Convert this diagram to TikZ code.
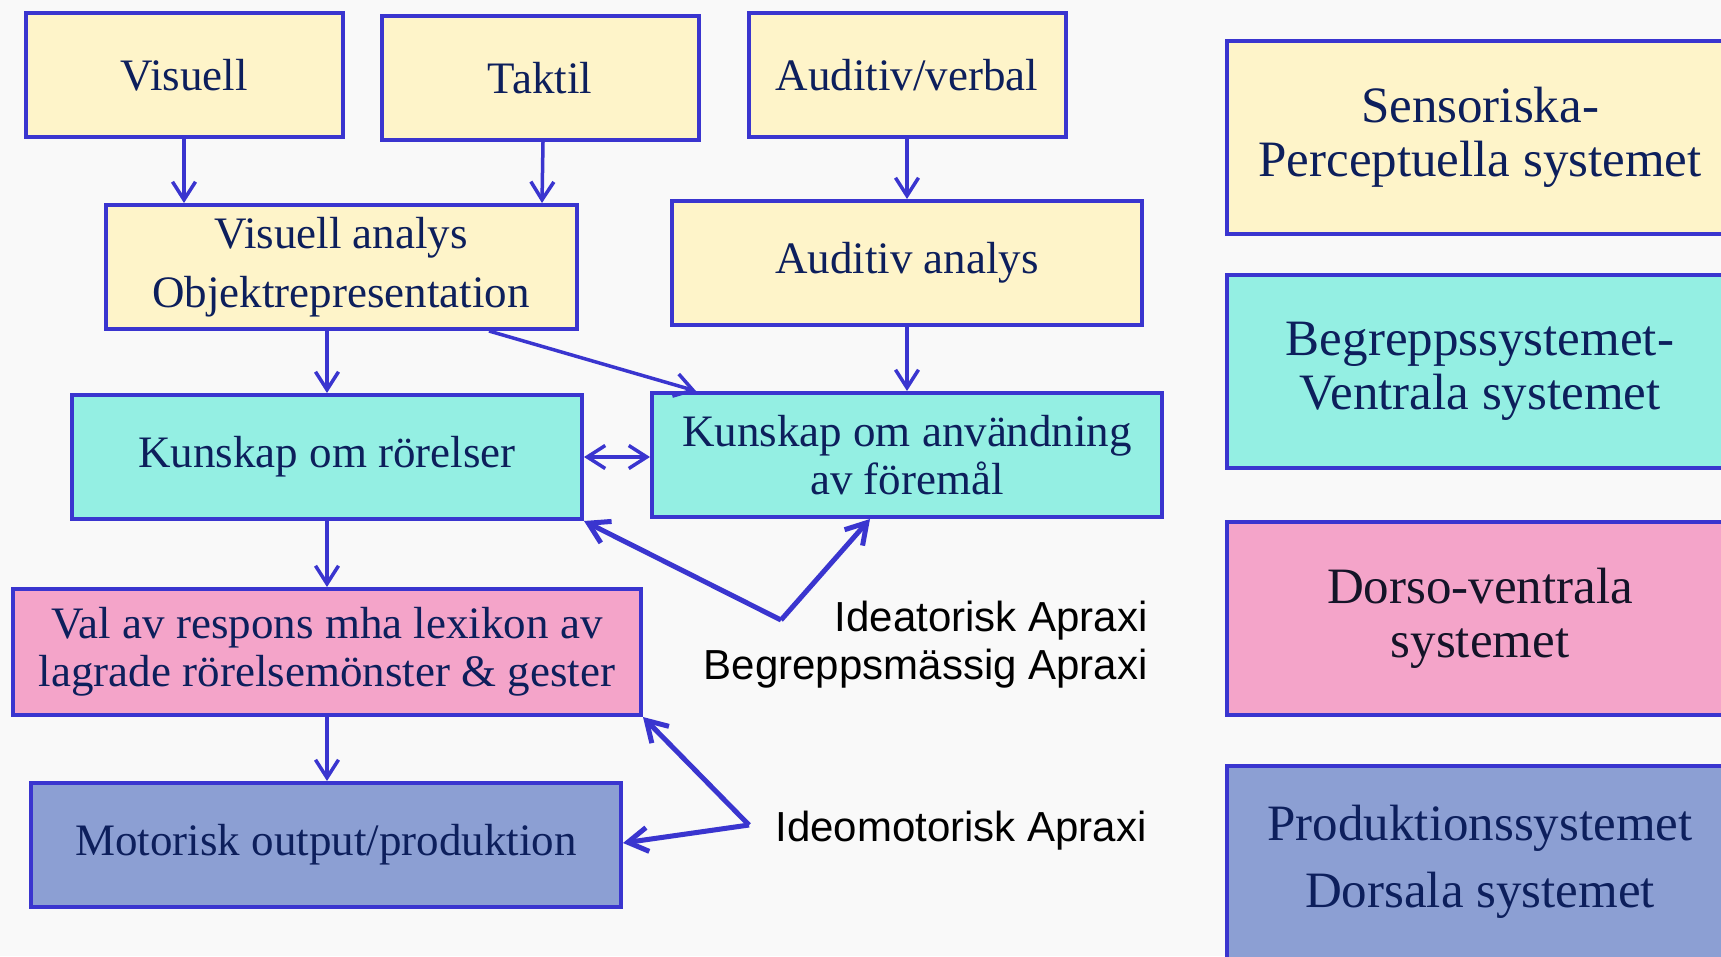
\documentclass[tikz,border=0pt]{standalone}
\usepackage{fontspec}
\setmainfont{Liberation Serif}
\newfontfamily\apraxifont{Liberation Sans}
\usetikzlibrary{arrows.meta}

\definecolor{edgeblue}{RGB}{58,53,207}
\definecolor{sensyellow}{RGB}{254,244,201}
\definecolor{ventcyan}{RGB}{148,239,227}
\definecolor{dorspink}{RGB}{244,164,201}
\definecolor{prodblue}{RGB}{140,159,211}
\definecolor{textnavy}{RGB}{13,31,92}
\definecolor{bggray}{RGB}{249,249,249}

\tikzset{
	box/.style={draw=edgeblue, line width=4pt, align=center, text=textnavy, inner sep=0pt,
		font=\fontsize{45}{48}\selectfont},
	sysbox/.style={box, minimum width=506pt, minimum height=193pt,
		font=\fontsize{51}{54}\selectfont},
	flow/.style={draw=edgeblue, line width=3.5pt, -{Straight Barb[length=18pt,width=23pt,line width=3.5pt]}},
	both/.style={flow, {Straight Barb[length=18pt,width=23pt,line width=3.5pt]}-{Straight Barb[length=18pt,width=23pt,line width=3.5pt]}},
	fat/.style={draw=edgeblue, line width=5pt, line join=miter, -{Straight Barb[length=20pt,width=24pt,line width=5pt]}},
	apraxi/.style={font=\apraxifont\fontsize{42}{48}\selectfont, align=right, anchor=east, text=black}
}

\begin{document}
\begin{tikzpicture}[x=1pt,y=-1pt]
	\def\bw{317}	%width of the three input boxes
	\def\bh{124}	%height of the small boxes
	\fill[bggray] (0,0) rectangle (1721,956);
	\useasboundingbox (0,0) rectangle (1721,956);
	\clip (0,0) rectangle (1721,956);

	%input boxes
	\node[box, fill=sensyellow, minimum width=\bw pt, minimum height=\bh pt] (vis) at (184,75) {Visuell};
	\node[box, fill=sensyellow, minimum width=\bw pt, minimum height=\bh pt] (tak) at (540,78) {Taktil};
	\node[box, fill=sensyellow, minimum width=\bw pt, minimum height=\bh pt] (aud) at (907,75) {Auditiv/verbal};

	%analysis
	\node[box, fill=sensyellow, minimum width=471pt, minimum height=\bh pt,
		font=\fontsize{45}{59}\selectfont] (visan) at (341,267) {Visuell analys\\Objektrepresentation};
	\node[box, fill=sensyellow, minimum width=470pt, minimum height=\bh pt] (audan) at (907,263) {Auditiv analys};

	%knowledge
	\node[box, fill=ventcyan, minimum width=510pt, minimum height=\bh pt] (kror) at (327,457) {Kunskap om rörelser};
	\node[box, fill=ventcyan, minimum width=510pt, minimum height=\bh pt] (kanv) at (907,455) {Kunskap om användning\\av föremål};

	%response and output
	\node[box, fill=dorspink, minimum width=628pt, minimum height=126pt] (val) at (327,652) {Val av respons mha lexikon av\\lagrade rörelsemönster \& gester};
	\node[box, fill=prodblue, minimum width=590pt, minimum height=\bh pt] (mot) at (326,845) {Motorisk output/produktion};

	%legend on the right
	\node[sysbox, fill=sensyellow] (sys1) at (1480,137) {Sensoriska-\\Perceptuella systemet};
	\node[sysbox, fill=ventcyan] (sys2) at (1480,371) {Begreppssystemet-\\Ventrala systemet};
	\node[sysbox, fill=dorspink, text={rgb,255:red,20;green,20;blue,40}] (sys3) at (1480,618) {Dorso-ventrala\\systemet};
	\node[sysbox, fill=prodblue, font=\fontsize{51}{67}\selectfont] (sys4) at (1480,862) {Produktionssystemet\\Dorsala systemet};

	%labels
	\node[apraxi] (ideat) at (1151,645) {Ideatorisk Apraxi\\Begreppsmässig Apraxi};
	\node[apraxi] (ideom) at (1150,831) {Ideomotorisk Apraxi};
	\coordinate (ideatv) at (781,620);	%vertex of upper V
	\coordinate (ideomv) at (749,825);	%vertex of lower V

	%connections
	\draw[flow] (vis.south) -- (vis.south |- visan.north);
	\draw[flow] ([xshift=3pt]tak.south) -- ([xshift=2pt]tak.south |- visan.north);
	\draw[flow] (aud.south) -- (aud.south |- audan.north);
	\draw[flow] (kror.north |- visan.south) -- (kror.north);
	\draw[flow] ([xshift=148pt]visan.south) -- ([xshift=-211pt]kanv.north);
	\draw[flow] (audan.south) -- (kanv.north);
	\draw[both] (kror.east) -- (kror.east -| kanv.west);
	\draw[flow] (kror.south) -- (val.north);
	\draw[flow] (val.south) -- (val.south |- mot.north);

	%apraxia arrows
	\draw[fat] (ideatv) -- (kror.south east);
	\draw[fat] (ideatv) -- ([xshift=-37pt]kanv.south);
	\draw[fat] (ideomv) -- (val.south east);
	\draw[fat] (ideomv) -- ([yshift=2pt]mot.east);
\end{tikzpicture}
\end{document}
